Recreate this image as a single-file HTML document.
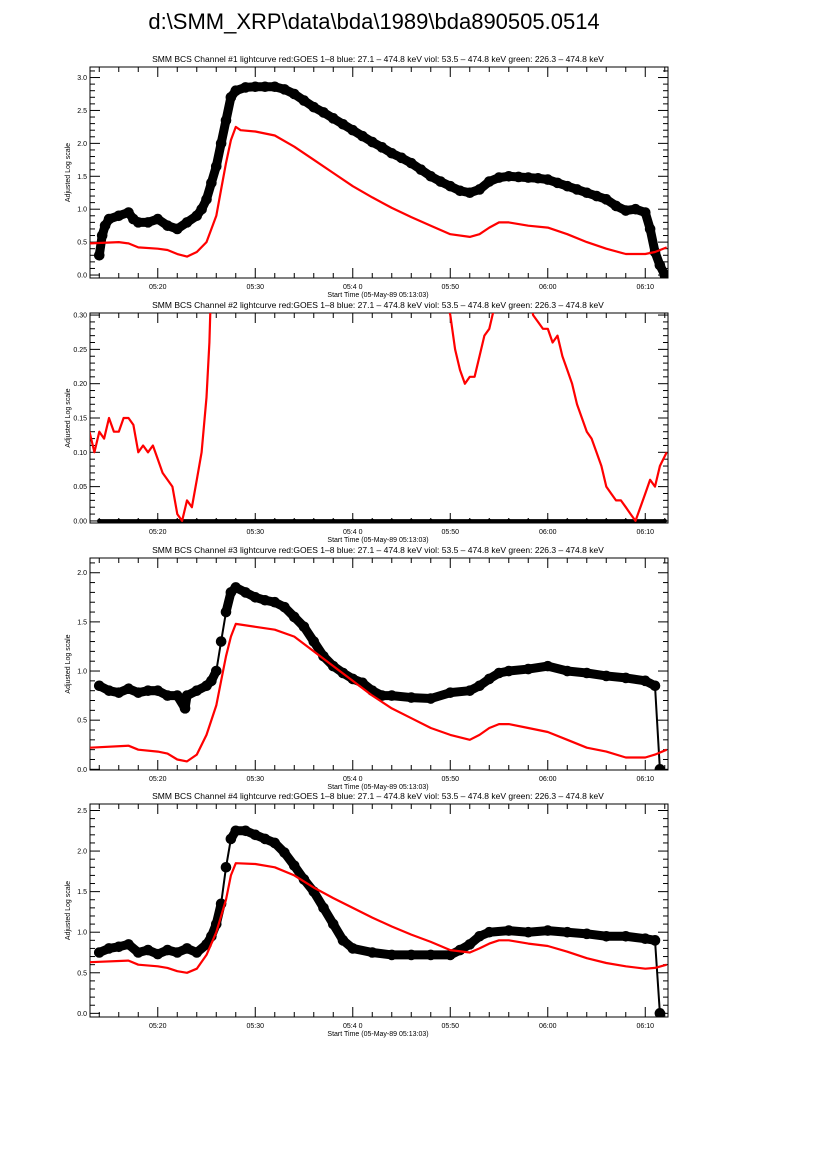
<!DOCTYPE html>
<html><head><meta charset="utf-8"><title>bda890505.0514</title>
<style>
html,body{margin:0;padding:0;background:#fff;}
svg{display:block;font-family:"Liberation Sans",sans-serif;}
</style></head>
<body>
<svg id="fig" width="826" height="1169" viewBox="0 0 826 1169" xmlns="http://www.w3.org/2000/svg">
<rect width="826" height="1169" fill="#fff"/>
<text x="374" y="29" font-size="22" text-anchor="middle" fill="#000">d:\SMM_XRP\data\bda\1989\bda890505.0514</text>
</svg>
<script>
// times in minutes after 05:00
const xTickLabels = ["05:20","05:30","05:4 0","05:50","06:00","06:10"];
const xTickTimes = [20,30,40,50,60,70];
const t1k = [14,14.3,14.6,15,16,17,17.5,18,19,20,21,22,23,24,24.5,25,25.5,26,26.5,27,27.5,28,29,30,31,32,33,34,35,36,37,38,39,40,41,42,43,44,45,46,47,48,49,50,51,52,53,54,55,56,57,58,59,60,61,62,63,64,65,66,67,68,69,70,70.5,71,71.5,72];
const v1k = [0.3,0.6,0.75,0.85,0.9,0.95,0.85,0.8,0.8,0.85,0.75,0.7,0.8,0.9,1.0,1.15,1.4,1.65,2.0,2.35,2.7,2.8,2.85,2.86,2.86,2.86,2.82,2.75,2.65,2.55,2.47,2.38,2.29,2.2,2.11,2.02,1.94,1.85,1.78,1.7,1.6,1.5,1.42,1.35,1.28,1.25,1.3,1.42,1.48,1.5,1.49,1.48,1.47,1.45,1.4,1.35,1.3,1.25,1.2,1.15,1.05,0.98,1.0,0.95,0.7,0.35,0.15,0.0];
const t1r = [13,16,17,18,20,21,22,23,24,25,26,26.5,27,27.5,28,28.5,30,32,34,36,38,40,42,44,46,48,50,52,53,54,55,56,58,60,62,64,66,68,70,71,72.2];
const v1r = [0.48,0.5,0.48,0.42,0.4,0.38,0.32,0.28,0.35,0.5,0.9,1.3,1.7,2.05,2.25,2.2,2.18,2.12,1.95,1.75,1.55,1.35,1.18,1.02,0.88,0.75,0.62,0.58,0.62,0.72,0.8,0.8,0.75,0.72,0.62,0.5,0.4,0.32,0.32,0.35,0.42];
const t2k = [14,16,18,20,22,24,26,28,30,32,34,36,38,40,42,44,46,48,50,52,54,56,58,60,62,64,66,68,70,72];
const v2k = [0,0,0,0,0,0,0,0,0,0,0,0,0,0,0,0,0,0,0,0,0,0,0,0,0,0,0,0,0,0];
const t2r = [13,13.5,14,14.5,15,15.5,16,16.5,17,17.5,18,18.5,19,19.5,20,20.5,21,21.5,22,22.5,23,23.5,24,24.5,25,25.3,26,35,45,50,50.5,51,51.5,52,52.5,53,53.5,54,54.5,56,58.5,59,59.5,60,60.5,61,61.5,62,62.5,63,63.5,64,64.5,65,65.5,66,66.5,67,67.5,68,68.5,69,69.5,70,70.5,71,71.5,72.2];
const v2r = [0.13,0.1,0.13,0.12,0.15,0.13,0.13,0.15,0.15,0.14,0.1,0.11,0.1,0.11,0.09,0.07,0.06,0.05,0.01,0.0,0.03,0.02,0.06,0.1,0.18,0.26,0.6,1.0,0.6,0.3,0.25,0.22,0.2,0.21,0.21,0.24,0.27,0.28,0.31,0.5,0.3,0.29,0.28,0.28,0.26,0.27,0.24,0.22,0.2,0.17,0.15,0.13,0.12,0.1,0.08,0.05,0.04,0.03,0.03,0.02,0.01,0.0,0.02,0.04,0.06,0.05,0.08,0.1];
const t3k = [14,15,16,17,18,19,20,21,22,22.8,23,24,25,25.5,26,26.5,27,27.5,28,29,30,31,32,33,34,35,36,37,38,39,40,41,42,43,44,46,48,50,52,53,54,55,56,58,60,62,64,66,68,70,71,71.5];
const v3k = [0.85,0.8,0.78,0.82,0.78,0.8,0.8,0.75,0.75,0.62,0.75,0.8,0.85,0.9,1.0,1.3,1.6,1.8,1.85,1.8,1.75,1.72,1.7,1.65,1.55,1.45,1.3,1.15,1.05,0.98,0.92,0.88,0.8,0.75,0.75,0.73,0.72,0.78,0.8,0.85,0.92,0.98,1.0,1.02,1.05,1.0,0.98,0.95,0.93,0.9,0.85,0.0];
const t3r = [13,17,18,20,21,22,23,24,25,26,26.5,27,27.5,28,30,32,34,36,38,40,42,44,46,48,50,52,53,54,55,56,58,60,62,64,66,68,70,71,72.2];
const v3r = [0.22,0.24,0.2,0.18,0.16,0.1,0.08,0.15,0.35,0.65,0.9,1.15,1.35,1.48,1.45,1.42,1.35,1.2,1.05,0.9,0.75,0.62,0.52,0.42,0.35,0.3,0.35,0.42,0.46,0.46,0.42,0.38,0.3,0.22,0.18,0.12,0.12,0.15,0.2];
const t4k = [14,15,16,17,18,19,20,21,22,23,24,25,25.5,26,26.5,27,27.5,28,29,30,31,32,33,34,35,36,37,38,39,40,42,44,46,48,50,51,52,53,54,56,58,60,62,64,66,68,70,71,71.5];
const v4k = [0.75,0.8,0.82,0.85,0.75,0.78,0.73,0.78,0.75,0.8,0.75,0.85,0.95,1.1,1.35,1.8,2.15,2.25,2.25,2.2,2.15,2.1,1.98,1.82,1.65,1.5,1.3,1.1,0.9,0.8,0.75,0.72,0.72,0.72,0.72,0.78,0.85,0.95,1.0,1.02,1.0,1.02,1.0,0.98,0.95,0.95,0.92,0.9,0.0];
const t4r = [13,17,18,20,21,22,23,24,25,26,27,27.5,28,30,32,34,36,38,40,42,44,46,48,50,52,53,54,55,56,58,60,62,64,66,68,70,71,72.2];
const v4r = [0.63,0.65,0.6,0.58,0.56,0.52,0.5,0.55,0.72,1.0,1.4,1.7,1.85,1.84,1.8,1.7,1.55,1.42,1.3,1.18,1.07,0.97,0.88,0.78,0.75,0.8,0.86,0.9,0.9,0.86,0.83,0.76,0.68,0.62,0.58,0.55,0.56,0.6];
const yTicks1 = ["0.0","0.5","1.0","1.5","2.0","2.5","3.0"];
const yTicks2 = ["0.00","0.05","0.10","0.15","0.20","0.25","0.30"];
const yTicks3 = ["0.0","0.5","1.0","1.5","2.0"];
const yTicks4 = ["0.0","0.5","1.0","1.5","2.0","2.5"];

const NS = "http://www.w3.org/2000/svg";
const svg = document.getElementById("fig");
const X0 = 90, X1 = 668, T0 = 13.05, PXMIN = 9.75;
function xs(t){ return X0 + (t - T0) * PXMIN; }
function mk(tag, attrs, parent){ const e = document.createElementNS(NS, tag); for (const k in attrs) e.setAttribute(k, attrs[k]); (parent||svg).appendChild(e); return e; }

const panels = [
 {n:1, top:67, bot:278, ymin:-0.045, ymax:3.16, ticks:yTicks1, step:0.5, minor:0.1, tk:t1k, vk:v1k, tr:t1r, vr:v1r, r:5.3},
 {n:2, top:313, bot:523, ymin:-0.003, ymax:0.303, ticks:yTicks2, step:0.05, minor:0.01, tk:t2k, vk:v2k, tr:t2r, vr:v2r, r:2.2},
 {n:3, top:558, bot:770, ymin:-0.007, ymax:2.15, ticks:yTicks3, step:0.5, minor:0.1, tk:t3k, vk:v3k, tr:t3r, vr:v3r, r:5.3},
 {n:4, top:804, bot:1017, ymin:-0.045, ymax:2.58, ticks:yTicks4, step:0.5, minor:0.1, tk:t4k, vk:v4k, tr:t4r, vr:v4r, r:5.3}
];

panels.forEach(p => {
  const g = mk("g", {});
  
  
  const ys = v => p.bot - (v - p.ymin) / (p.ymax - p.ymin) * (p.bot - p.top);
  const cid = "clip" + p.n;
  const cp = mk("clipPath", {id: cid}, g);
  mk("rect", {x: X0, y: p.top, width: X1 - X0, height: p.bot - p.top}, cp);

  const title = mk("text", {x: 378, y: p.top - 5, "font-size": 8.5, "text-anchor": "middle"}, g);
  
  
  title.textContent = "SMM BCS Channel #" + p.n + " lightcurve  red:GOES 1\u20138  blue: 27.1 \u2013 474.8 keV  viol: 53.5 \u2013 474.8 keV  green: 226.3 \u2013 474.8 keV";

  const frame = mk("rect", {x: X0, y: p.top, width: X1 - X0, height: p.bot - p.top, fill: "none", stroke: "#000", "stroke-width": 1}, g);
  
  

  for (let m = 14; m <= 72; m += 2) {
    const x = xs(m), major = (m % 10 === 0), L = major ? 10 : 5;
    mk("line", {x1: x, x2: x, y1: p.bot, y2: p.bot - L, stroke: "#000"}, g);
    mk("line", {x1: x, x2: x, y1: p.top, y2: p.top + L, stroke: "#000"}, g);
  }
  xTickTimes.forEach((m, i) => {
    const lt = mk("text", {x: xs(m), y: p.bot + 11, "font-size": 7, "text-anchor": "middle"}, g);
    
    
    lt.textContent = xTickLabels[i];
  });
  const xt = mk("text", {x: 378, y: p.bot + 19, "font-size": 7, "text-anchor": "middle"}, g);
  
  
  xt.textContent = "Start Time (05-May-89 05:13:03)";

  const nMinor = Math.floor((p.ymax + 1e-9) / p.minor);
  for (let i = 0; i <= nMinor; i++) {
    const v = i * p.minor, y = ys(v);
    const major = Math.abs(v / p.step - Math.round(v / p.step)) < 1e-6, L = major ? 10 : 5;
    mk("line", {x1: X0, x2: X0 + L, y1: y, y2: y, stroke: "#000"}, g);
    mk("line", {x1: X1, x2: X1 - L, y1: y, y2: y, stroke: "#000"}, g);
  }
  p.ticks.forEach((lab, i) => {
    const yl = mk("text", {x: X0 - 3, y: ys(i * p.step) + 2.5, "font-size": 7, "text-anchor": "end"}, g);
    
    
    yl.textContent = lab;
  });
  const ym = (p.top + p.bot) / 2;
  const yt = mk("text", {x: 70, y: ym, "font-size": 7, "text-anchor": "middle", transform: "rotate(-90 70 " + ym + ")"}, g);
  
  
  yt.textContent = "Adjusted Log scale";

  const dg = mk("g", {"clip-path": "url(#" + cid + ")"}, g);
  // black series: thin connecting line + thick band between close points + dots
  const kpts = p.tk.map((t, i) => xs(t).toFixed(1) + "," + ys(p.vk[i]).toFixed(1)).join(" ");
  const kl = mk("polyline", {points: kpts, fill: "none", stroke: "#000", "stroke-width": 2}, dg);
  
  
  for (let i = 1; i < p.tk.length; i++) {
    if (Math.abs(ys(p.vk[i]) - ys(p.vk[i-1])) < 25) {
      const s = mk("line", {x1: xs(p.tk[i-1]), y1: ys(p.vk[i-1]), x2: xs(p.tk[i]), y2: ys(p.vk[i]), stroke: "#000", "stroke-width": p.r * 1.7, "stroke-linecap": "round"}, dg);
      
      
    }
  }
  p.tk.forEach((t, i) => {
    const c = mk("circle", {cx: xs(t), cy: ys(p.vk[i]), r: p.r, fill: "#000"}, dg);
    
    
  });
  const rpts = p.tr.map((t, i) => xs(t).toFixed(1) + "," + ys(p.vr[i]).toFixed(1)).join(" ");
  const rl = mk("polyline", {points: rpts, fill: "none", stroke: "#f00", "stroke-width": 2.2, "stroke-linejoin": "round"}, dg);
  
  
});
</script>
</body></html>
